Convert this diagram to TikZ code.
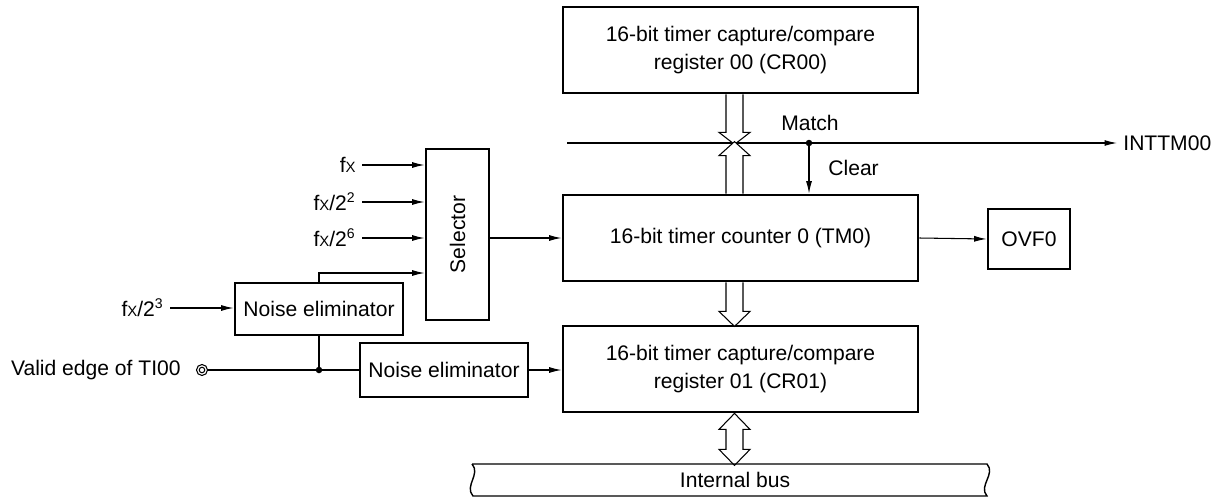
\documentclass[tikz,border=0pt]{standalone}
\usepackage{fontspec}
\setmainfont{Liberation Sans}
\usetikzlibrary{arrows.meta,calc}

\newcommand\fX{f{\fontsize{8.5pt}{8.5pt}\selectfont X}}
\tikzset{
  box/.style={draw,line width=1.6pt,align=center,inner sep=0pt},
  hollow/.style={draw,fill=white,line width=0.6pt},
}

\begin{document}
\begin{tikzpicture}[x=0.02cm,y=-0.02cm,>={Latex[length=2.5mm,width=1.2mm]},
  line width=0.6pt,font=\fontsize{12pt}{16pt}\selectfont]
\def\u{0.02cm}
\useasboundingbox (0,0) rectangle (1223,497);
% registers and counter
\node (cr00) at (740.5,50) [box,minimum width=355*\u,minimum height=86*\u]
	{16-bit timer capture/compare\\register 00 (CR00)};
\node (tm) at (740.5,238) [box,minimum width=355*\u,minimum height=86*\u]
	{16-bit timer counter 0 (TM0)};
\node (cr01) at (740.5,369) [box,minimum width=355*\u,minimum height=86*\u]
	{16-bit timer capture/compare\\register 01 (CR01)};
\node (ovf) at (1029,239) [box,minimum width=82*\u,minimum height=60*\u] {OVF0};
\node (sel) at (457.5,234.5) [box,minimum width=63*\u,minimum height=171*\u,
	label={[rotate=90]center:Selector}] {};
\node (ne1) at (319,309) [box,minimum width=168*\u,minimum height=52*\u] {Noise eliminator};
\node (ne2) at (444,370) [box,minimum width=168*\u,minimum height=54*\u] {Noise eliminator};
% clock inputs
\node (fa) at (362,165) [anchor=east] {\fX};
\node (fb) at (362,202) [anchor=east] {\fX/2\textsuperscript{2}};
\node (fc) at (362,238) [anchor=east] {\fX/2\textsuperscript{6}};
\node (fd) at (170,308) [anchor=east] {\fX/2\textsuperscript{3}};
\foreach \f in {fa,fb,fc}
	\draw[->] (\f.east) -- (\f.east -| sel.west);
\draw[->] (fd.east) -- (fd.east -| ne1.west);
\draw[->] (ne1.north) |- (sel.west |- 0,273);
% TI00 pin
\node (vl) at (187,370) [anchor=east] {Valid edge of TI00};
\node (ti) at (202,370) [circle,draw,minimum size=11*\u,inner sep=0pt] {};
\draw (ti.center) circle[radius=0.055cm];
\coordinate (tap) at (ne1.south |- ti.east);
\draw (ti.east) -- (ne2.west);
\draw (tap) -- (ne1.south);
\fill (tap) circle[radius=0.065cm];
\draw[->] (ne2.east) -- (ne2.east -| cr01.west);
\draw[->] (sel.east |- tm.west) -- (tm.west);
\draw[->] (tm.east) -- (ovf.west);
% match / clear
\coordinate (ml) at (567,143);
\node (int) at (1117,143) [anchor=west] {INTTM00};
\draw[->] (ml) -- (int.west);
\coordinate (mt) at (809,143);
\fill (mt) circle[radius=0.065cm];
\node (match) at (810,123) {Match};
\node (clear) at (822,168) [anchor=west] {Clear};
\draw[->] (mt) -- (mt |- tm.north);
% wide arrows
\draw[hollow] (cr00.south) ++(-14.5,0) -- ++(0,38) -- ++(-7,0) -- ++(15.5,12)
	-- ++(15.5,-12) -- ++(-7,0) -- ++(0,-38);
\draw[hollow] (tm.north) ++(-14.5,0) -- ++(0,-38) -- ++(-7,0) -- ++(15.5,-14)
	-- ++(15.5,14) -- ++(-7,0) -- ++(0,38);
\draw[hollow] (tm.south) ++(-14.5,0) -- ++(0,29) -- ++(-7,0) -- ++(15.5,15)
	-- ++(15.5,-15) -- ++(-7,0) -- ++(0,-29);
\draw[hollow] (cr01.south) ++(-6,0) -- ++(15.5,16) -- ++(-7,0) -- ++(0,20)
	-- ++(7,0) -- ++(-15.5,16) -- ++(-15.5,-16) -- ++(7,0) -- ++(0,-20)
	-- ++(-7,0) -- cycle;
% internal bus
\node (bus) at (735,480) {Internal bus};
\draw[line width=0.8pt] (472,464) -- (987,464) .. controls (996,474) and (978,486) .. (987,496)
	-- (473,496) .. controls (464,486) and (481,474) .. (472,464);
\end{tikzpicture}
\end{document}
